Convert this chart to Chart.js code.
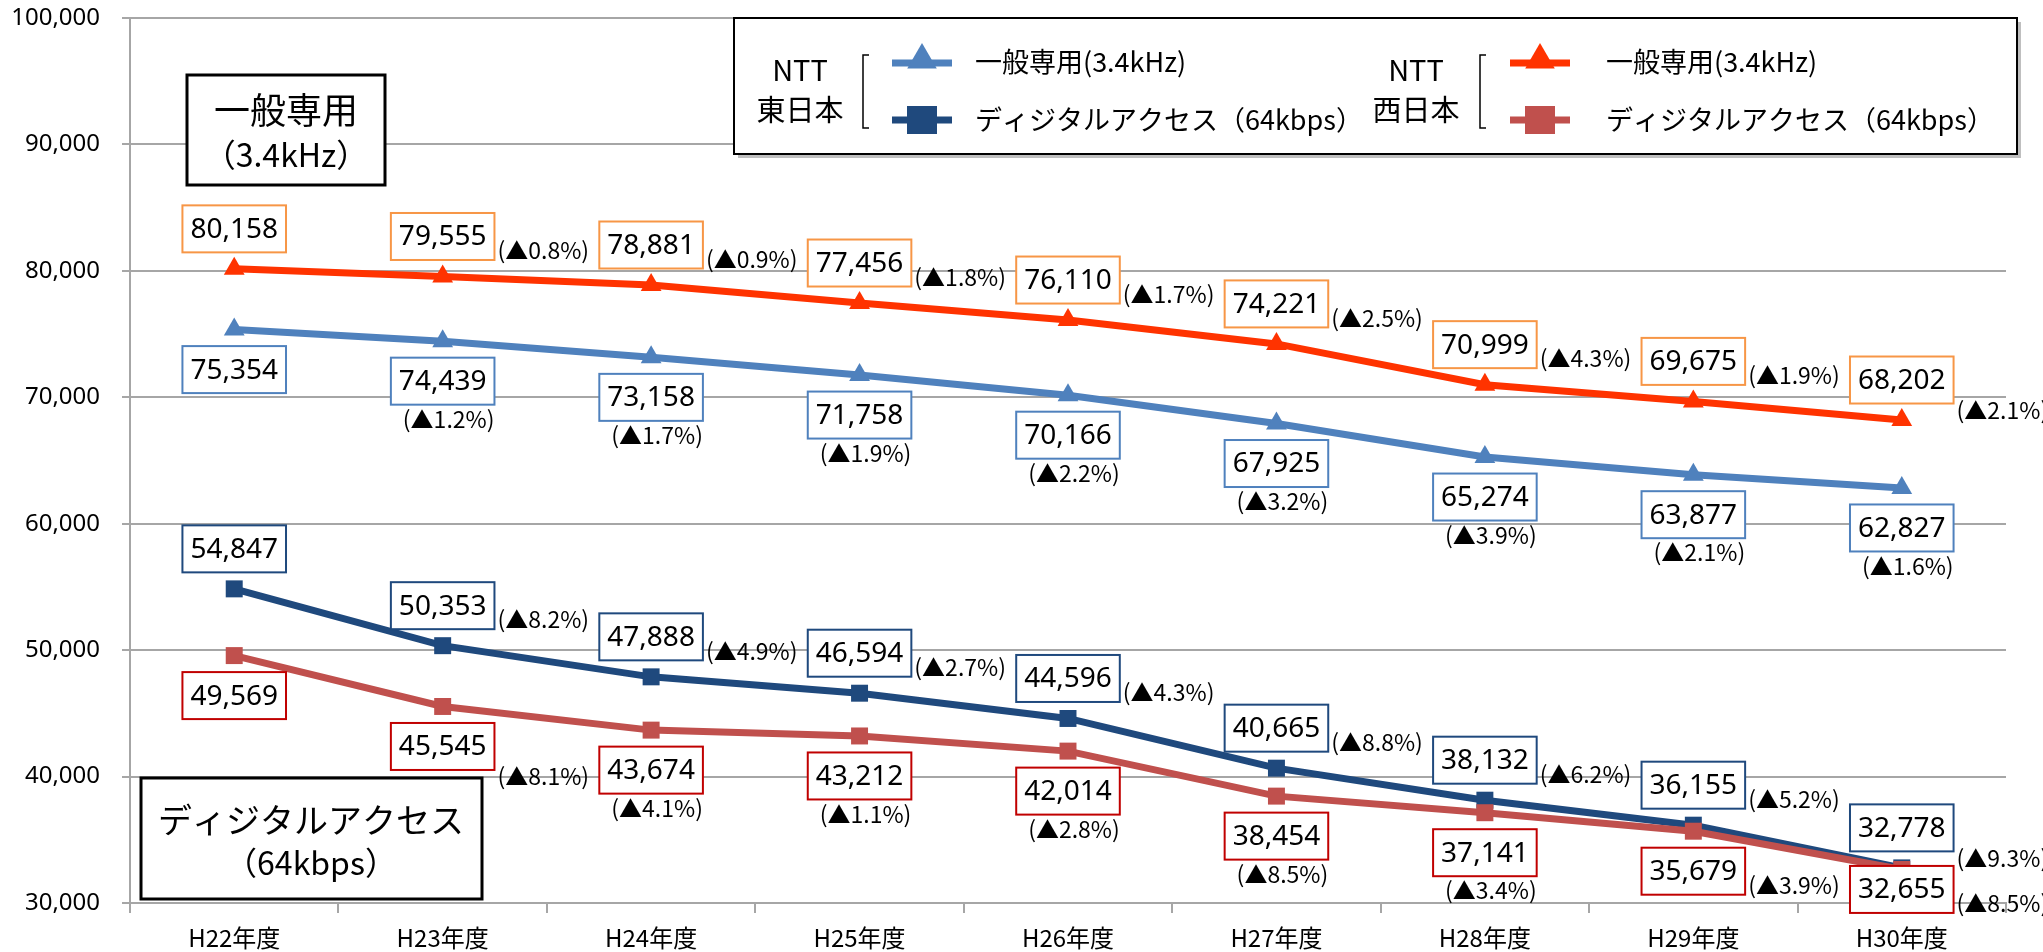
<!DOCTYPE html>
<html>
<head>
<meta charset="utf-8">
<script src="https://cdn.jsdelivr.net/npm/chart.js@4.4.0/dist/chart.umd.min.js"></script>
<style>
html, body { margin: 0; background: #fff; }
canvas { display: block; }
</style>
</head>
<body>
<canvas id="chart" width="2043" height="952"></canvas>
<script>
// categories
const years = ["H22年度", "H23年度", "H24年度", "H25年度", "H26年度", "H27年度", "H28年度", "H29年度", "H30年度"];

// NTT東日本
const eastGeneral = [75354, 74439, 73158, 71758, 70166, 67925, 65274, 63877, 62827];
const eastDigital = [54847, 50353, 47888, 46594, 44596, 40665, 38132, 36155, 32778];
// NTT西日本
const westGeneral = [80158, 79555, 78881, 77456, 76110, 74221, 70999, 69675, 68202];
const westDigital = [49569, 45545, 43674, 43212, 42014, 38454, 37141, 35679, 32655];

// 前年度比の減少率 (%)
const eastGeneralPct = [null, 1.2, 1.7, 1.9, 2.2, 3.2, 3.9, 2.1, 1.6];
const eastDigitalPct = [null, 8.2, 4.9, 2.7, 4.3, 8.8, 6.2, 5.2, 9.3];
const westGeneralPct = [null, 0.8, 0.9, 1.8, 1.7, 2.5, 4.3, 1.9, 2.1];
const westDigitalPct = [null, 8.1, 4.1, 1.1, 2.8, 8.5, 3.4, 3.9, 8.5];

// y axis ticks
const yMin = 30000;
const yMax = 100000;
const yStep = 10000;

const ctx = document.getElementById("chart").getContext("2d");

const valueFont = '28px "Noto Sans", "Noto Sans CJK JP", sans-serif';
const pctFont = '23px "Noto Sans CJK JP", sans-serif';

const dataLabels = {
    id: "dataLabels",
    afterDatasetsDraw(chart) {
        const c = chart.ctx;
        chart.data.datasets.forEach((ds, di) => {
            const meta = chart.getDatasetMeta(di);
            meta.data.forEach((pt, i) => {
                const cx = pt.x;
                const dy = ds.boxDy[i] !== undefined ? ds.boxDy[i] : ds.boxDy.def;
                const cy = pt.y + dy;
                const txt = ds.data[i].toLocaleString("en-US");
                c.save();
                c.font = valueFont;
                const w = c.measureText(txt).width + 16;
                const h = 47;
                c.fillStyle = "#fff";
                c.fillRect(cx - w / 2, cy - h / 2, w, h);
                c.strokeStyle = ds.boxColor;
                c.lineWidth = 2;
                c.strokeRect(cx - w / 2, cy - h / 2, w, h);
                c.fillStyle = "#000";
                c.textAlign = "center";
                c.textBaseline = "middle";
                c.fillText(txt, cx, cy + 1);

                const p = ds.pct[i];
                if (p !== null) {
                    const s = "(▲" + p.toFixed(1) + "%)";
                    c.font = pctFont;
                    const mode = ds.pctMode[i];
                    if (mode === "b") {
                        c.textAlign = "center";
                        c.fillText(s, cx + 6, cy + 38);
                    } else {
                        c.textAlign = "left";
                        c.fillText(s, cx + w / 2 + 3, cy + (mode === "rb" ? 30 : 14));
                    }
                }
                c.restore();
            });
        });
    }
};

function drawTri(c, x, y, r, color) {
    c.fillStyle = color;
    c.beginPath();
    c.moveTo(x, y - r);
    c.lineTo(x + r * 0.87, y + r * 0.5);
    c.lineTo(x - r * 0.87, y + r * 0.5);
    c.closePath();
    c.fill();
}

const extras = {
    id: "extras",
    afterDraw(chart) {
        const c = chart.ctx;
        c.save();

        // legend box
        const lx = 734, ly = 18, lw = 1283, lh = 136;
        c.fillStyle = "#bfbfbf";
        c.fillRect(lx + 4, ly + 4, lw, lh);
        c.fillStyle = "#fff";
        c.fillRect(lx, ly, lw, lh);
        c.strokeStyle = "#000";
        c.lineWidth = 2;
        c.strokeRect(lx, ly, lw, lh);

        const groups = [
            { x: 800, name: "東日本", bx: 863, sx: 892, tx: 975, gen: "#4F81BD", dig: "#1F497D" },
            { x: 1416, name: "西日本", bx: 1480, sx: 1510, tx: 1606, gen: "#FF3300", dig: "#C0504D" }
        ];
        groups.forEach(g => {
            c.fillStyle = "#000";
            c.font = '29px "Noto Sans CJK JP", sans-serif';
            c.textAlign = "center";
            c.textBaseline = "middle";
            c.fillText("NTT", g.x, 70);
            c.fillText(g.name, g.x, 110);
            // bracket
            c.strokeStyle = "#000";
            c.lineWidth = 1.5;
            c.beginPath();
            c.moveTo(g.bx + 6, 55);
            c.lineTo(g.bx, 55);
            c.lineTo(g.bx, 128);
            c.lineTo(g.bx + 6, 128);
            c.stroke();
            // samples
            c.lineWidth = 7;
            c.strokeStyle = g.gen;
            c.beginPath();
            c.moveTo(g.sx, 63);
            c.lineTo(g.sx + 60, 63);
            c.stroke();
            drawTri(c, g.sx + 30, 60, 17, g.gen);
            c.strokeStyle = g.dig;
            c.beginPath();
            c.moveTo(g.sx, 120);
            c.lineTo(g.sx + 60, 120);
            c.stroke();
            c.fillStyle = g.dig;
            c.fillRect(g.sx + 15, 106, 30, 28);
            c.fillStyle = "#000";
            c.textAlign = "left";
            c.font = '27px "Noto Sans CJK JP", sans-serif';
            c.fillText("一般専用(3.4kHz)", g.tx, 62);
            c.fillText("ディジタルアクセス（64kbps）", g.tx, 120);
        });

        // annotation boxes
        c.lineWidth = 3;
        c.strokeStyle = "#000";
        c.fillStyle = "#fff";
        c.fillRect(187, 75, 198, 110);
        c.strokeRect(187, 75, 198, 110);
        c.fillRect(141, 778, 341, 121);
        c.strokeRect(141, 778, 341, 121);
        c.fillStyle = "#000";
        c.textAlign = "center";
        c.textBaseline = "middle";
        c.font = '36px "Noto Sans CJK JP", sans-serif';
        c.fillText("一般専用", 286, 110);
        c.font = '32px "Noto Sans CJK JP", sans-serif';
        c.fillText("（3.4kHz）", 286, 155);
        c.font = '34px "Noto Sans CJK JP", sans-serif';
        c.fillText("ディジタルアクセス", 311, 820);
        c.font = '32px "Noto Sans CJK JP", sans-serif';
        c.fillText("（64kbps）", 311, 863);

        c.restore();
    }
};

const chart = new Chart(ctx, {
    type: "line",
    data: {
        labels: years,
        datasets: [
            {
                label: "NTT西日本 ディジタルアクセス（64kbps）",
                data: westDigital,
                borderColor: "#C0504D",
                backgroundColor: "#C0504D",
                pointStyle: "rect",
                pointRadius: 12,
                boxColor: "#C00000",
                boxDy: { def: 40, 8: 20 },
                pct: westDigitalPct,
                pctMode: ["", "rb", "b", "b", "b", "b", "b", "r", "r"]
            },
            {
                label: "NTT東日本 ディジタルアクセス（64kbps）",
                data: eastDigital,
                borderColor: "#1F497D",
                backgroundColor: "#1F497D",
                pointStyle: "rect",
                pointRadius: 12,
                boxColor: "#1F497D",
                boxDy: { def: -40 },
                pct: eastDigitalPct,
                pctMode: ["", "r", "r", "r", "r", "r", "r", "r", "rb"]
            },
            {
                label: "NTT西日本 一般専用(3.4kHz)",
                data: westGeneral,
                borderColor: "#FF3300",
                backgroundColor: "#FF3300",
                pointStyle: "triangle",
                pointRadius: 12,
                boxColor: "#F79646",
                boxDy: { def: -40 },
                pct: westGeneralPct,
                pctMode: ["", "r", "r", "r", "r", "r", "r", "r", "rb"]
            },
            {
                label: "NTT東日本 一般専用(3.4kHz)",
                data: eastGeneral,
                borderColor: "#4F81BD",
                backgroundColor: "#4F81BD",
                pointStyle: "triangle",
                pointRadius: 12,
                boxColor: "#4F81BD",
                boxDy: { def: 40 },
                pct: eastGeneralPct,
                pctMode: ["", "b", "b", "b", "b", "b", "b", "b", "b"]
            }
        ]
    },
    options: {
        responsive: false,
        animation: false,
        layout: { padding: { top: 18, right: 37, left: 0, bottom: 0 } },
        elements: {
            line: { borderWidth: 7, tension: 0 },
            point: { borderWidth: 0, hoverRadius: 12 }
        },
        plugins: {
            legend: { display: false },
            tooltip: { enabled: false }
        },
        scales: {
            x: {
                offset: true,
                grid: {
                    offset: true,
                    drawOnChartArea: false,
                    drawTicks: true,
                    tickLength: 10,
                    color: "#A6A6A6",
                    lineWidth: 2
                },
                border: { color: "#A6A6A6", width: 2 },
                ticks: {
                    color: "#000",
                    padding: 10,
                    font: { family: '"Noto Sans CJK JP", sans-serif', size: 24 }
                },
                afterFit(scale) { scale.height = 49; }
            },
            y: {
                min: yMin,
                max: yMax,
                grid: { color: "#A6A6A6", lineWidth: 2, tickLength: 8 },
                border: { color: "#A6A6A6", width: 2 },
                ticks: {
                    stepSize: yStep,
                    color: "#000",
                    padding: 22,
                    font: { family: '"Noto Sans", sans-serif', size: 24 },
                    callback: v => v.toLocaleString("en-US")
                },
                afterFit(scale) {
                    scale.width = 130;
                    scale.paddingTop = 0;
                    scale.paddingBottom = 0;
                }
            }
        }
    },
    plugins: [dataLabels, extras]
});
</script>
</body>
</html>
